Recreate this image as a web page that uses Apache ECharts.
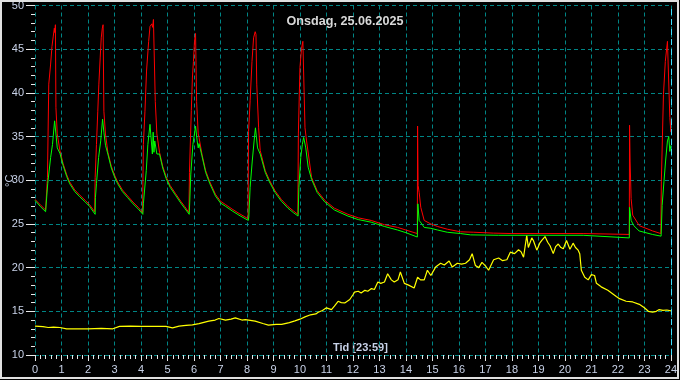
<!DOCTYPE html>
<html>
<head>
<meta charset="utf-8">
<script src="https://cdn.jsdelivr.net/npm/echarts@6/dist/echarts.min.js"></script>
<style>html,body{margin:0;padding:0;background:#000;}#c{width:680px;height:380px;}</style>
</head>
<body>
<div id="c"></div>
<script>
const titleText = 'Onsdag, 25.06.2025';
const xLabelText = 'Tid [23:59]';
const yLabelText = '°C';

const redSeries = [
[0,27.8],[0.2,27.2],[0.4,26.6],[0.46,26.4],
[0.47,30.3],[0.52,41.0],[0.59,43.3],[0.64,45.3],[0.69,46.5],[0.73,47.4],[0.75,46.9],[0.77,47.8],[0.79,38.3],[0.84,35.3],[0.94,33.4],[1.06,31.9],[1.2,30.6],[1.31,29.8],[1.5,28.9],[1.69,28.3],[1.9,27.7],[2.06,27.2],[2.25,26.4],
[2.27,30.3],[2.32,34.1],[2.37,37.9],[2.41,41.0],[2.46,44.0],[2.5,46.3],[2.54,47.4],[2.57,47.8],[2.6,37.9],[2.66,35.3],[2.75,33.2],[2.88,31.6],[3.0,30.6],[3.12,29.8],[3.3,28.9],[3.5,28.2],[3.7,27.5],[3.9,26.9],[4.06,26.3],
[4.09,34.1],[4.15,37.9],[4.21,42.5],[4.29,45.9],[4.34,47.6],[4.41,47.9],[4.44,47.5],[4.47,48.4],[4.54,39.0],[4.6,35.3],[4.7,33.2],[4.82,31.6],[4.95,30.4],[5.1,29.4],[5.3,28.5],[5.5,27.6],[5.65,27.0],[5.81,26.3],
[5.83,30.9],[5.9,38.0],[5.94,41.7],[5.98,43.6],[6.02,45.9],[6.06,46.8],[6.1,39.0],[6.16,35.3],[6.19,34.9],[6.3,33.0],[6.44,31.1],[6.6,29.8],[6.81,28.4],[7.0,27.6],[7.2,27.2],[7.44,26.7],[7.7,26.2],[8.04,25.6],
[8.06,35.6],[8.12,39.1],[8.19,43.6],[8.25,46.3],[8.31,47.0],[8.34,46.7],[8.37,41.0],[8.44,36.0],[8.5,33.4],[8.69,31.1],[8.85,30.0],[9.06,28.8],[9.3,27.8],[9.55,27.0],[9.75,26.5],[9.92,26.1],
[9.94,35.3],[10.0,42.9],[10.06,45.1],[10.11,45.9],[10.16,45.7],[10.19,36.0],[10.25,34.5],[10.44,30.3],[10.65,28.8],[10.94,27.7],[11.3,26.8],[11.81,26.1],[12.2,25.7],[12.69,25.4],[13.2,24.9],[13.69,24.6],[14.0,24.3],[14.43,23.9],
[14.44,36.2],[14.46,29.4],[14.5,28.6],[14.56,26.9],[14.69,25.4],[14.94,25.0],[15.2,24.7],[15.56,24.4],[16.06,24.1],[16.56,24.05],[17.3,23.95],[18.0,23.9],[20.69,23.9],[20.75,23.8],[22.43,23.8],
[22.44,36.3],[22.46,32.2],[22.5,27.9],[22.56,26.0],[22.81,24.8],[23.31,24.2],[23.62,23.9],
[23.64,29.9],[23.72,39.8],[23.79,43.6],[23.87,45.9],[23.94,46.1],[23.96,37.2],[24.0,35.5]
];

const greenSeries = [
[0,27.7],[0.2,27.0],[0.4,26.4],[0.47,26.2],
[0.48,29.6],[0.59,32.6],[0.66,34.1],[0.74,36.8],[0.77,37.0],[0.79,35.3],[0.84,33.7],[0.94,33.1],[1.06,31.7],[1.2,30.4],[1.31,29.6],[1.5,28.7],[1.69,28.1],[1.9,27.5],[2.06,27.0],[2.27,26.1],
[2.28,28.0],[2.32,29.6],[2.4,32.6],[2.48,34.5],[2.55,37.0],[2.6,35.5],[2.66,34.0],[2.75,33.0],[2.88,31.4],[3.0,30.4],[3.12,29.6],[3.3,28.7],[3.5,28.0],[3.7,27.3],[3.9,26.7],[4.07,26.1],
[4.09,27.3],[4.2,31.1],[4.26,34.1],[4.34,36.4],[4.41,36.2],[4.43,33.0],[4.46,35.5],[4.49,33.2],[4.52,34.5],[4.6,33.0],[4.7,33.0],[4.82,31.4],[4.95,30.2],[5.1,29.2],[5.3,28.3],[5.5,27.4],[5.65,26.8],[5.82,26.1],
[5.84,27.5],[5.88,30.7],[5.96,34.1],[6.06,36.2],[6.12,34.5],[6.16,33.7],[6.19,34.2],[6.3,32.8],[6.44,30.9],[6.6,29.6],[6.81,28.2],[7.0,27.4],[7.2,27.0],[7.44,26.5],[7.7,26.0],[8.05,25.4],
[8.07,25.8],[8.12,29.2],[8.2,32.2],[8.27,34.5],[8.32,36.0],[8.4,33.7],[8.5,33.0],[8.69,30.9],[8.85,29.8],[9.06,28.6],[9.3,27.6],[9.55,26.8],[9.75,26.3],[9.93,25.9],
[9.96,29.2],[10.03,32.6],[10.09,34.1],[10.14,34.9],[10.22,33.7],[10.31,31.5],[10.44,30.1],[10.65,28.6],[10.94,27.5],[11.3,26.6],[11.81,25.9],[12.2,25.5],[12.69,25.2],[13.2,24.7],[13.69,24.3],[14.0,24.0],[14.43,23.5],
[14.45,27.3],[14.5,25.4],[14.6,25.0],[14.69,24.6],[14.94,24.5],[15.2,24.3],[15.56,24.05],[16.06,23.9],[16.44,23.75],[17.5,23.7],[20.69,23.7],[20.75,23.5],[22.43,23.4],
[22.44,26.9],[22.5,25.4],[22.6,24.8],[22.8,24.2],[23.3,23.8],[23.63,23.6],
[23.67,27.1],[23.74,29.9],[23.8,32.2],[23.87,34.5],[23.92,35.0],[23.96,33.3],[24.0,34.0]
];

const yellowSeries = [
[0,13.3],[0.3,13.25],[0.5,13.15],[0.7,13.2],[0.94,13.15],[1.19,13.0],[1.6,13.0],[2.0,13.0],[2.5,13.05],[2.94,13.0],[3.19,13.27],[3.6,13.3],[4.0,13.27],[4.5,13.27],[4.94,13.27],[5.19,13.1],[5.44,13.3],[5.7,13.4],[5.94,13.45],[6.19,13.6],[6.56,13.87],[6.8,14.0],[6.94,14.18],[7.19,14.0],[7.4,14.1],[7.56,14.25],[7.81,14.0],[7.94,14.05],[8.31,13.87],[8.6,13.6],[8.81,13.42],[9.1,13.5],[9.31,13.5],[9.6,13.7],[9.81,13.9],[10.0,14.1],[10.19,14.36],[10.4,14.6],[10.6,14.7],[10.69,14.9],[10.85,15.1],[11.0,15.4],[11.19,15.2],[11.3,15.6],[11.44,16.15],[11.56,16.0],[11.69,15.96],[11.88,16.35],[12.0,16.9],[12.06,17.2],[12.2,17.3],[12.31,17.1],[12.45,17.4],[12.56,17.3],[12.7,17.6],[12.81,17.5],[12.94,18.35],[13.05,18.2],[13.19,18.35],[13.31,19.3],[13.45,18.6],[13.56,18.35],[13.7,18.6],[13.79,19.5],[13.94,18.2],[14.1,18.0],[14.31,17.67],[14.44,18.9],[14.55,18.6],[14.69,18.6],[14.81,19.7],[14.94,19.1],[15.0,18.9],[15.12,20.06],[15.31,20.5],[15.45,20.3],[15.63,20.75],[15.75,20.06],[15.94,20.5],[16.1,20.4],[16.25,20.5],[16.4,20.9],[16.5,21.6],[16.62,20.25],[16.75,20.0],[16.87,20.6],[17.0,20.2],[17.12,19.7],[17.31,20.9],[17.5,21.1],[17.65,20.8],[17.81,20.9],[17.94,21.77],[18.1,21.6],[18.25,22.05],[18.35,21.8],[18.44,21.2],[18.56,23.7],[18.62,22.3],[18.69,22.5],[18.75,23.4],[18.81,23.1],[18.94,22.0],[19.05,22.8],[19.12,23.1],[19.25,23.56],[19.35,22.9],[19.44,22.5],[19.56,21.6],[19.65,22.4],[19.75,22.7],[19.85,22.3],[19.94,22.15],[20.06,23.1],[20.19,22.1],[20.31,22.8],[20.4,22.3],[20.5,22.0],[20.56,21.6],[20.62,19.7],[20.75,18.9],[20.88,18.6],[21.0,19.2],[21.12,19.1],[21.19,18.2],[21.37,17.8],[21.62,17.4],[21.94,16.7],[22.06,16.45],[22.31,16.15],[22.56,16.07],[22.81,15.8],[23.0,15.4],[23.15,15.0],[23.31,14.9],[23.45,15.0],[23.56,15.2],[23.7,15.1],[23.85,15.15],[24,15.05]
];

const nowMarker = 24;

const labelColor = '#c8d2e8';
const gridColor = '#008585';
const font = '"Liberation Sans", Arial, sans-serif';

const chart = echarts.init(document.getElementById('c'), null, {renderer: 'canvas'});
chart.setOption({
  backgroundColor: '#000000',
  animation: false,
  grid: {left: 35, right: 5, top: 4, bottom: 25, containLabel: false},
  title: {
    text: titleText, left: 340, top: 10, textAlign: 'center',
    textStyle: {color: '#d8d8d8', fontSize: 12.6, fontWeight: 'bold', fontFamily: font}
  },
  xAxis: {
    type: 'value', min: 0, max: 24, interval: 1,
    axisLine: {show: false},
    axisTick: {show: true, inside: false, length: 6, lineStyle: {color: '#e8e8e8', width: 1}},
    minorTick: {show: true, splitNumber: 5, length: 4, lineStyle: {color: '#e8e8e8', width: 1}},
    axisLabel: {color: labelColor, fontSize: 11, fontFamily: font, margin: 9},
    splitLine: {show: true, lineStyle: {color: gridColor, type: [4, 3], width: 1}}
  },
  yAxis: {
    type: 'value', min: 10, max: 50, interval: 5,
    axisLine: {show: false},
    axisTick: {show: true, length: 9, lineStyle: {color: '#e8e8e8', width: 1}},
    minorTick: {show: true, splitNumber: 5, length: 4, lineStyle: {color: '#e8e8e8', width: 1}},
    axisLabel: {color: labelColor, fontSize: 11, fontFamily: font, margin: 11},
    splitLine: {show: true, lineStyle: {color: gridColor, type: [4, 3], width: 1}}
  },
  graphic: [
    {type: 'text', left: 333, top: 342, style: {text: xLabelText, fill: labelColor, font: 'bold 11px ' + font}},
    {type: 'text', x: 4, y: 187, rotation: Math.PI / 2, style: {text: yLabelText, fill: labelColor, font: '11px ' + font}},
    {type: 'rect', shape: {x: 1, y: 1, width: 677, height: 377}, style: {fill: 'none', stroke: '#e0e0e0', lineWidth: 2}, silent: true, z: 100}
  ],
  series: [
    {type: 'line', data: yellowSeries, showSymbol: false, lineStyle: {color: '#ffff00', width: 1.2}, z: 2,
     markLine: {silent: true, symbol: 'none', label: {show: false},
       lineStyle: {color: '#40e0ff', type: [6, 4], width: 1}, data: [{xAxis: nowMarker}]}},
    {type: 'line', data: redSeries, showSymbol: false, lineStyle: {color: '#ff0000', width: 1}, z: 3},
    {type: 'line', data: greenSeries, showSymbol: false, lineStyle: {color: '#00ff00', width: 1}, z: 4}
  ]
});
</script>
</body>
</html>
